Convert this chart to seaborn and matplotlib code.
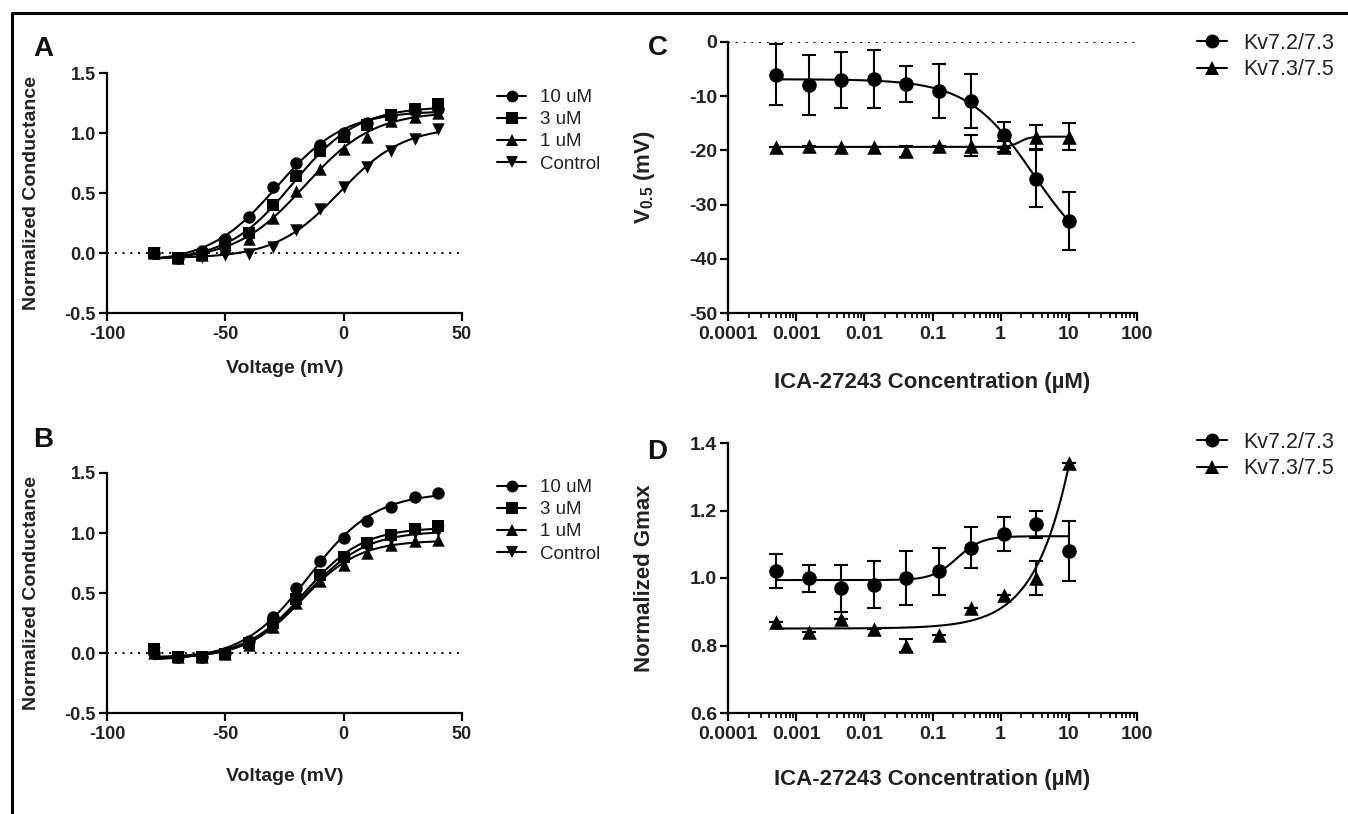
import numpy as np
import pandas as pd
import matplotlib
matplotlib.use("Agg")
import matplotlib.pyplot as plt
import seaborn as sns
from matplotlib.lines import Line2D
from matplotlib.ticker import FixedLocator, FuncFormatter, LogLocator, NullFormatter

sns.set_theme(style="ticks")
plt.rcParams['font.family'] = ['Liberation Sans', 'DejaVu Sans']
plt.rcParams['axes.unicode_minus'] = False
plt.rcParams['mathtext.fontset'] = 'custom'
plt.rcParams['mathtext.rm'] = 'Liberation Sans:bold'
plt.rcParams['mathtext.default'] = 'rm'


# -------------------------------
# Data
# -------------------------------

voltage = [-80, -70, -60, -50, -40, -30, -20, -10, 0, 10, 20, 30, 40]
iv_labels = ["10 uM", "3 uM", "1 uM", "Control"]
iv_markers = ["o", "s", "^", "v"]

# panel A
a_10uM = [0.00, -0.04, 0.02, 0.12, 0.30, 0.55, 0.75, 0.90, 1.00, 1.08, 1.14, 1.18, 1.20]
a_3uM = [0.00, -0.04, -0.02, 0.08, 0.17, 0.40, 0.64, 0.85, 0.97, 1.07, 1.15, 1.20, 1.24]
a_1uM = [0.00, -0.04, -0.02, 0.04, 0.12, 0.29, 0.52, 0.70, 0.87, 0.97, 1.10, 1.13, 1.17]
a_ctrl = [0.00, -0.04, -0.03, -0.02, -0.01, 0.05, 0.19, 0.37, 0.55, 0.72, 0.85, 0.95, 1.03]

# panel B
b_10uM = [0.00, -0.03, -0.03, 0.00, 0.10, 0.30, 0.54, 0.77, 0.96, 1.10, 1.22, 1.30, 1.33]
b_3uM = [0.03, -0.03, -0.03, -0.01, 0.08, 0.25, 0.45, 0.65, 0.80, 0.92, 0.98, 1.03, 1.06]
b_1uM = [0.00, -0.03, -0.03, -0.01, 0.07, 0.22, 0.42, 0.60, 0.73, 0.83, 0.90, 0.93, 0.94]
b_ctrl = [0.00, -0.03, -0.03, -0.01, 0.07, 0.23, 0.43, 0.62, 0.76, 0.88, 0.95, 1.00, 1.02]

# panels C and D
conc = [0.000508, 0.00152, 0.00457, 0.0137, 0.0412, 0.123, 0.370, 1.11, 3.33, 10.0]
dr_labels = ["Kv7.2/7.3", "Kv7.3/7.5"]
dr_markers = ["o", "^"]

c_kv23 = [-6.0, -7.9, -7.0, -6.8, -7.8, -9.1, -10.9, -17.2, -25.2, -33.0]
c_kv23_err = [5.6, 5.5, 5.2, 5.3, 3.3, 5.0, 5.0, 2.4, 5.3, 5.3]
c_kv35 = [-19.4, -19.1, -19.3, -19.3, -20.2, -19.1, -19.1, -19.3, -17.5, -17.5]
c_kv35_err = [0.0, 0.0, 0.0, 0.0, 1.1, 0.0, 2.0, 1.0, 2.2, 2.5]

d_kv23 = [1.02, 1.00, 0.97, 0.98, 1.00, 1.02, 1.09, 1.13, 1.16, 1.08]
d_kv23_err = [0.05, 0.04, 0.07, 0.07, 0.08, 0.07, 0.06, 0.05, 0.04, 0.09]
d_kv35 = [0.87, 0.84, 0.88, 0.85, 0.80, 0.83, 0.91, 0.95, 1.00, 1.34]
d_kv35_err = [0.0, 0.0, 0.0, 0.0, 0.02, 0.0, 0.0, 0.0, 0.05, 0.0]


# -------------------------------
# Curve fitting (grid search + linear least squares)
# -------------------------------

def fit_sigmoid(x, y, centers, slopes, shape):
    X = np.asarray(x, float)
    Y = np.asarray(y, float)
    C, K = np.meshgrid(centers, slopes, indexing="ij")
    C = C.ravel()[:, None]
    K = K.ravel()[:, None]
    with np.errstate(over="ignore"):
        S = shape(X[None, :], C, K)
    n = X.size
    s1 = S.sum(1)
    s2 = (S ** 2).sum(1)
    sy = (S * Y).sum(1)
    y1 = Y.sum()
    det = n * s2 - s1 ** 2
    with np.errstate(divide="ignore", invalid="ignore"):
        d = (n * sy - s1 * y1) / det
        b = (y1 - d * s1) / n
        sse = ((b[:, None] + d[:, None] * S - Y) ** 2).sum(1)
    i = np.nanargmin(sse)
    c, k, bot, delta = C[i, 0], K[i, 0], b[i], d[i]
    return lambda xx: bot + delta * shape(np.asarray(xx, float), c, k)


def boltzmann(v, v50, k):
    return 1.0 / (1.0 + np.exp((v50 - v) / k))


def dose_resp(x, logec50, h):
    return 1.0 / (1.0 + 10.0 ** ((logec50 - np.log10(x)) * h))


def fit_iv(y):
    return fit_sigmoid(voltage, y, np.arange(-50, 30, 0.25), np.arange(3, 30, 0.25), boltzmann)


def fit_dr(y, hmax=6):
    return fit_sigmoid(conc, y, np.arange(-4, 2, 0.02), np.arange(0.3, hmax, 0.05), dose_resp)


# -------------------------------
# Figure
# -------------------------------

W, H = 1348, 814
fig = plt.figure(figsize=(W / 100, H / 100), dpi=100)
TXT = "#222222"


def px_axes(left, top, right, bottom):
    return fig.add_axes([left / W, 1 - bottom / H, (right - left) / W, (bottom - top) / H])


def style_axes(ax, tick_size):
    sns.despine(ax=ax)
    for s in ["left", "bottom"]:
        ax.spines[s].set_linewidth(1.6)
        ax.spines[s].set_color("black")
    ax.tick_params(which="major", length=6, width=1.6, color="black",
                   labelsize=tick_size, pad=2)
    ax.tick_params(axis="x", which="major", pad=3.5)
    ax.tick_params(which="minor", length=3.5, width=1.2, color="black")
    for lab in ax.get_xticklabels() + ax.get_yticklabels():
        lab.set_fontweight("bold")
        lab.set_color(TXT)


def iv_panel(ax, series, xlabel_y):
    ax.axhline(0, ls=(0, (1, 3)), color="black", lw=1.4, zorder=1)
    vfine = np.linspace(min(voltage), max(voltage), 300)
    for y, mk in zip(series, iv_markers):
        f = fit_iv(y)
        sns.lineplot(x=vfine, y=f(vfine), ax=ax, color="black", lw=1.5, zorder=2)
        sns.scatterplot(x=voltage, y=y, ax=ax, marker=mk, s=80, color="black",
                        edgecolor="black", linewidth=0, zorder=3)
    ax.set_xlim(-100, 50)
    ax.set_ylim(-0.5, 1.5)
    ax.xaxis.set_major_locator(FixedLocator([-100, -50, 0, 50]))
    ax.yaxis.set_major_locator(FixedLocator([-0.5, 0.0, 0.5, 1.0, 1.5]))
    ax.yaxis.set_major_formatter(FuncFormatter(lambda v, p: f"{v:.1f}"))
    ax.set_xlabel("Voltage (mV)", fontsize=14, fontweight="bold", color=TXT)
    ax.set_ylabel("Normalized Conductance", fontsize=14, fontweight="bold", color=TXT)
    ax.xaxis.set_label_coords(0.5, xlabel_y)
    ax.xaxis.label.set_va("center")
    ax.yaxis.set_label_coords(-0.189, 0.5)
    style_axes(ax, 13)


def dr_panel(ax, series, errs, hmaxes, xlabel_y):
    cfine = np.logspace(np.log10(min(conc)), np.log10(max(conc)), 300)
    for y, e, mk, hm in zip(series, errs, dr_markers, hmaxes):
        f = fit_dr(y, hm)
        sns.lineplot(x=cfine, y=f(cfine), ax=ax, color="black", lw=1.5, zorder=2)
        ax.errorbar(conc, y, yerr=e, fmt="none", ecolor="black", elinewidth=1.5,
                    capsize=5, capthick=1.5, zorder=2)
        sns.scatterplot(x=conc, y=y, ax=ax, marker=mk, s=110, color="black",
                        edgecolor="black", linewidth=0, zorder=3)
    ax.set_xscale("log")
    ax.set_xlim(1e-4, 100)
    ax.xaxis.set_major_locator(FixedLocator([1e-4, 1e-3, 1e-2, 1e-1, 1, 10, 100]))
    ax.xaxis.set_major_formatter(FuncFormatter(lambda v, p: f"{v:g}"))
    ax.xaxis.set_minor_locator(LogLocator(base=10, subs=np.arange(2, 10), numticks=20))
    ax.xaxis.set_minor_formatter(NullFormatter())
    ax.set_xlabel("ICA-27243 Concentration (\u00b5M)", fontsize=16,
                  fontweight="bold", color=TXT)
    ax.xaxis.set_label_coords(0.5, xlabel_y)
    ax.xaxis.label.set_va("center")


# panel A
axA = px_axes(107, 73, 462, 313)
iv_panel(axA, [a_10uM, a_3uM, a_1uM, a_ctrl], -0.232)

# panel B
axB = px_axes(107, 473, 462, 713)
iv_panel(axB, [b_10uM, b_3uM, b_1uM, b_ctrl], -0.266)

# panel C
axC = px_axes(728, 42, 1137, 313)
axC.axhline(0, ls=(0, (1, 3)), color="black", lw=1.4, zorder=1)
dr_panel(axC, [c_kv23, c_kv35], [c_kv23_err, c_kv35_err], [6, 6], -0.258)
axC.set_ylim(-50, 0)
axC.yaxis.set_major_locator(FixedLocator([-50, -40, -30, -20, -10, 0]))
axC.set_ylabel(r"V$_{0.5}$ (mV)", fontsize=16, fontweight="bold", color=TXT)
axC.yaxis.set_label_coords(-0.174, 0.5)
style_axes(axC, 14)

# panel D
axD = px_axes(728, 443, 1137, 713)
dr_panel(axD, [d_kv23, d_kv35], [d_kv23_err, d_kv35_err], [6, 3], -0.245)
axD.set_ylim(0.6, 1.4)
axD.yaxis.set_major_locator(FixedLocator([0.6, 0.8, 1.0, 1.2, 1.4]))
axD.yaxis.set_major_formatter(FuncFormatter(lambda v, p: f"{v:.1f}"))
axD.set_ylabel("Normalized Gmax", fontsize=16, fontweight="bold", color=TXT)
axD.yaxis.set_label_coords(-0.178, 0.5)
style_axes(axD, 14)


# -------------------------------
# Legends
# -------------------------------

def make_handles(markers, ms):
    return [Line2D([], [], color="black", lw=1.5, marker=m, ms=ms, markeredgewidth=0)
            for m in markers]


for ax, top in [(axA, 89), (axB, 479)]:
    ax.legend(make_handles(iv_markers, 8.5), iv_labels, loc="upper left",
              bbox_to_anchor=(497 / W, 1 - top / H), bbox_transform=fig.transFigure,
              frameon=False, fontsize=13.5, handlelength=1.55, handletextpad=0.75,
              labelspacing=0.27, borderpad=0, borderaxespad=0, labelcolor=TXT)

for ax, top in [(axC, 33), (axD, 432)]:
    ax.legend(make_handles(dr_markers, 10), dr_labels, loc="upper left",
              bbox_to_anchor=(1197 / W, 1 - top / H), bbox_transform=fig.transFigure,
              frameon=False, fontsize=15.5, handlelength=1.4, handletextpad=0.75,
              labelspacing=0.25, borderpad=0, borderaxespad=0, labelcolor=TXT)


# -------------------------------
# Panel letters and frame
# -------------------------------

for letter, x, y in [("A", 33, 49), ("B", 33, 440), ("C", 648, 48), ("D", 647, 452)]:
    fig.text(x / W, 1 - y / H, letter, fontsize=20, fontweight="bold",
             va="center", ha="left", color="#111111")

fig.add_artist(Line2D([12 / W, 1], [1 - 13 / H, 1 - 13 / H], transform=fig.transFigure,
                      color="black", lw=2.2))
fig.add_artist(Line2D([12 / W, 12 / W], [0, 1 - 13 / H], transform=fig.transFigure,
                      color="black", lw=2.2))

fig.savefig("out.png", dpi=100, facecolor="white")
